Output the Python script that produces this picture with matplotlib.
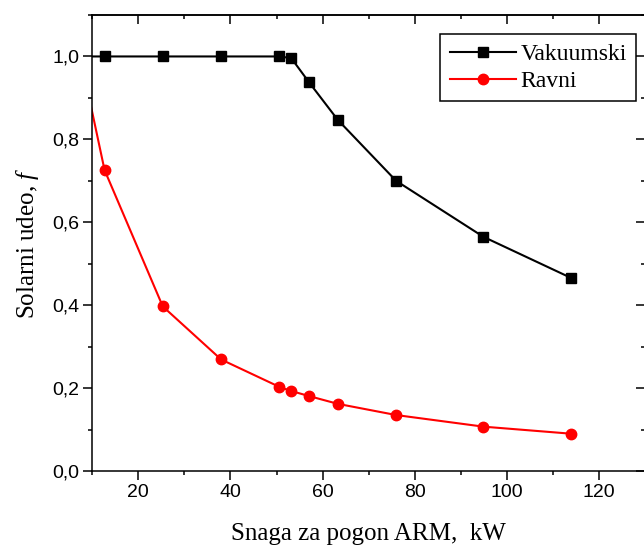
import matplotlib
matplotlib.use("Agg")
import matplotlib.pyplot as plt
from matplotlib.ticker import MultipleLocator, FuncFormatter

# data
power_kw = [7.6, 12.66, 25.3, 37.97, 50.6, 53.2, 56.97, 63.3, 75.96, 94.9, 113.9]
vakuumski = [1.0, 1.0, 1.0, 1.0, 1.0, 0.996, 0.939, 0.847, 0.700, 0.565, 0.466]
ravni = [0.99, 0.726, 0.397, 0.269, 0.203, 0.193, 0.181, 0.162, 0.135, 0.107, 0.090]

series_names = ["Vakuumski", "Ravni"]
x_label = "Snaga za pogon ARM,  kW"
y_label = r"Solarni udeo, $\mathit{f}$"

SANS = ["Liberation Sans", "DejaVu Sans"]
SERIF = ["Liberation Serif", "DejaVu Serif"]

plt.rcParams["mathtext.fontset"] = "custom"
plt.rcParams["mathtext.it"] = "Liberation Serif:italic"
plt.rcParams["mathtext.rm"] = "Liberation Serif"

fig = plt.figure(figsize=(6.44, 5.48), dpi=100)
ax = fig.add_axes([92.3 / 644, 77 / 548, 552.7 / 644, 456 / 548])

ax.plot(power_kw, vakuumski, color="black", lw=1.5, marker="s", ms=6.5,
        mec="black", mfc="black", label=series_names[0])
ax.plot(power_kw, ravni, color="#ff0000", lw=1.5, marker="o", ms=7.5,
        mec="#ff0000", mfc="#ff0000", label=series_names[1])

ax.set_xlim(10, 130)
ax.set_ylim(0, 1.1)

ax.xaxis.set_major_locator(MultipleLocator(20))
ax.xaxis.set_minor_locator(MultipleLocator(10))
ax.yaxis.set_major_locator(MultipleLocator(0.2))
ax.yaxis.set_minor_locator(MultipleLocator(0.1))
ax.yaxis.set_major_formatter(FuncFormatter(lambda v, p: f"{v:.1f}".replace(".", ",")))
ax.xaxis.set_major_formatter(FuncFormatter(lambda v, p: f"{v:.0f}"))

ax.tick_params(which="both", direction="out", width=1.1, colors="black")
ax.tick_params(which="major", length=6.5, labelsize=14, pad=3)
ax.tick_params(which="minor", length=3.2)
for lab in ax.get_xticklabels() + ax.get_yticklabels():
    lab.set_family(SANS)

for sp in ax.spines.values():
    sp.set_linewidth(1.1)

top = ax.secondary_xaxis("top")
top.xaxis.set_major_locator(MultipleLocator(20))
top.xaxis.set_minor_locator(MultipleLocator(10))
top.tick_params(which="both", direction="in", width=1.1, labeltop=False)
top.tick_params(which="major", length=6.5)
top.tick_params(which="minor", length=3.2)
top.spines["top"].set_linewidth(1.1)

right = ax.secondary_yaxis("right")
right.yaxis.set_major_locator(MultipleLocator(0.2))
right.yaxis.set_minor_locator(MultipleLocator(0.1))
right.tick_params(which="both", direction="in", width=1.1, labelright=False)
right.tick_params(which="major", length=6.5)
right.tick_params(which="minor", length=3.2)
right.spines["right"].set_linewidth(1.1)

ax.set_xlabel(x_label, family=SERIF, fontsize=18, labelpad=16)
ax.set_ylabel(y_label, family=SERIF, fontsize=18, labelpad=8)

leg = ax.legend(loc="upper right", bbox_to_anchor=(0.984, 0.958),
                prop={"family": SERIF, "size": 17}, frameon=True, fancybox=False,
                edgecolor="black", handlelength=2.8, handletextpad=0.2,
                borderpad=0.4, labelspacing=0.22, borderaxespad=0)
leg.get_frame().set_linewidth(1.1)
leg.get_frame().set_alpha(1)

fig.savefig("out.png", dpi=100)
